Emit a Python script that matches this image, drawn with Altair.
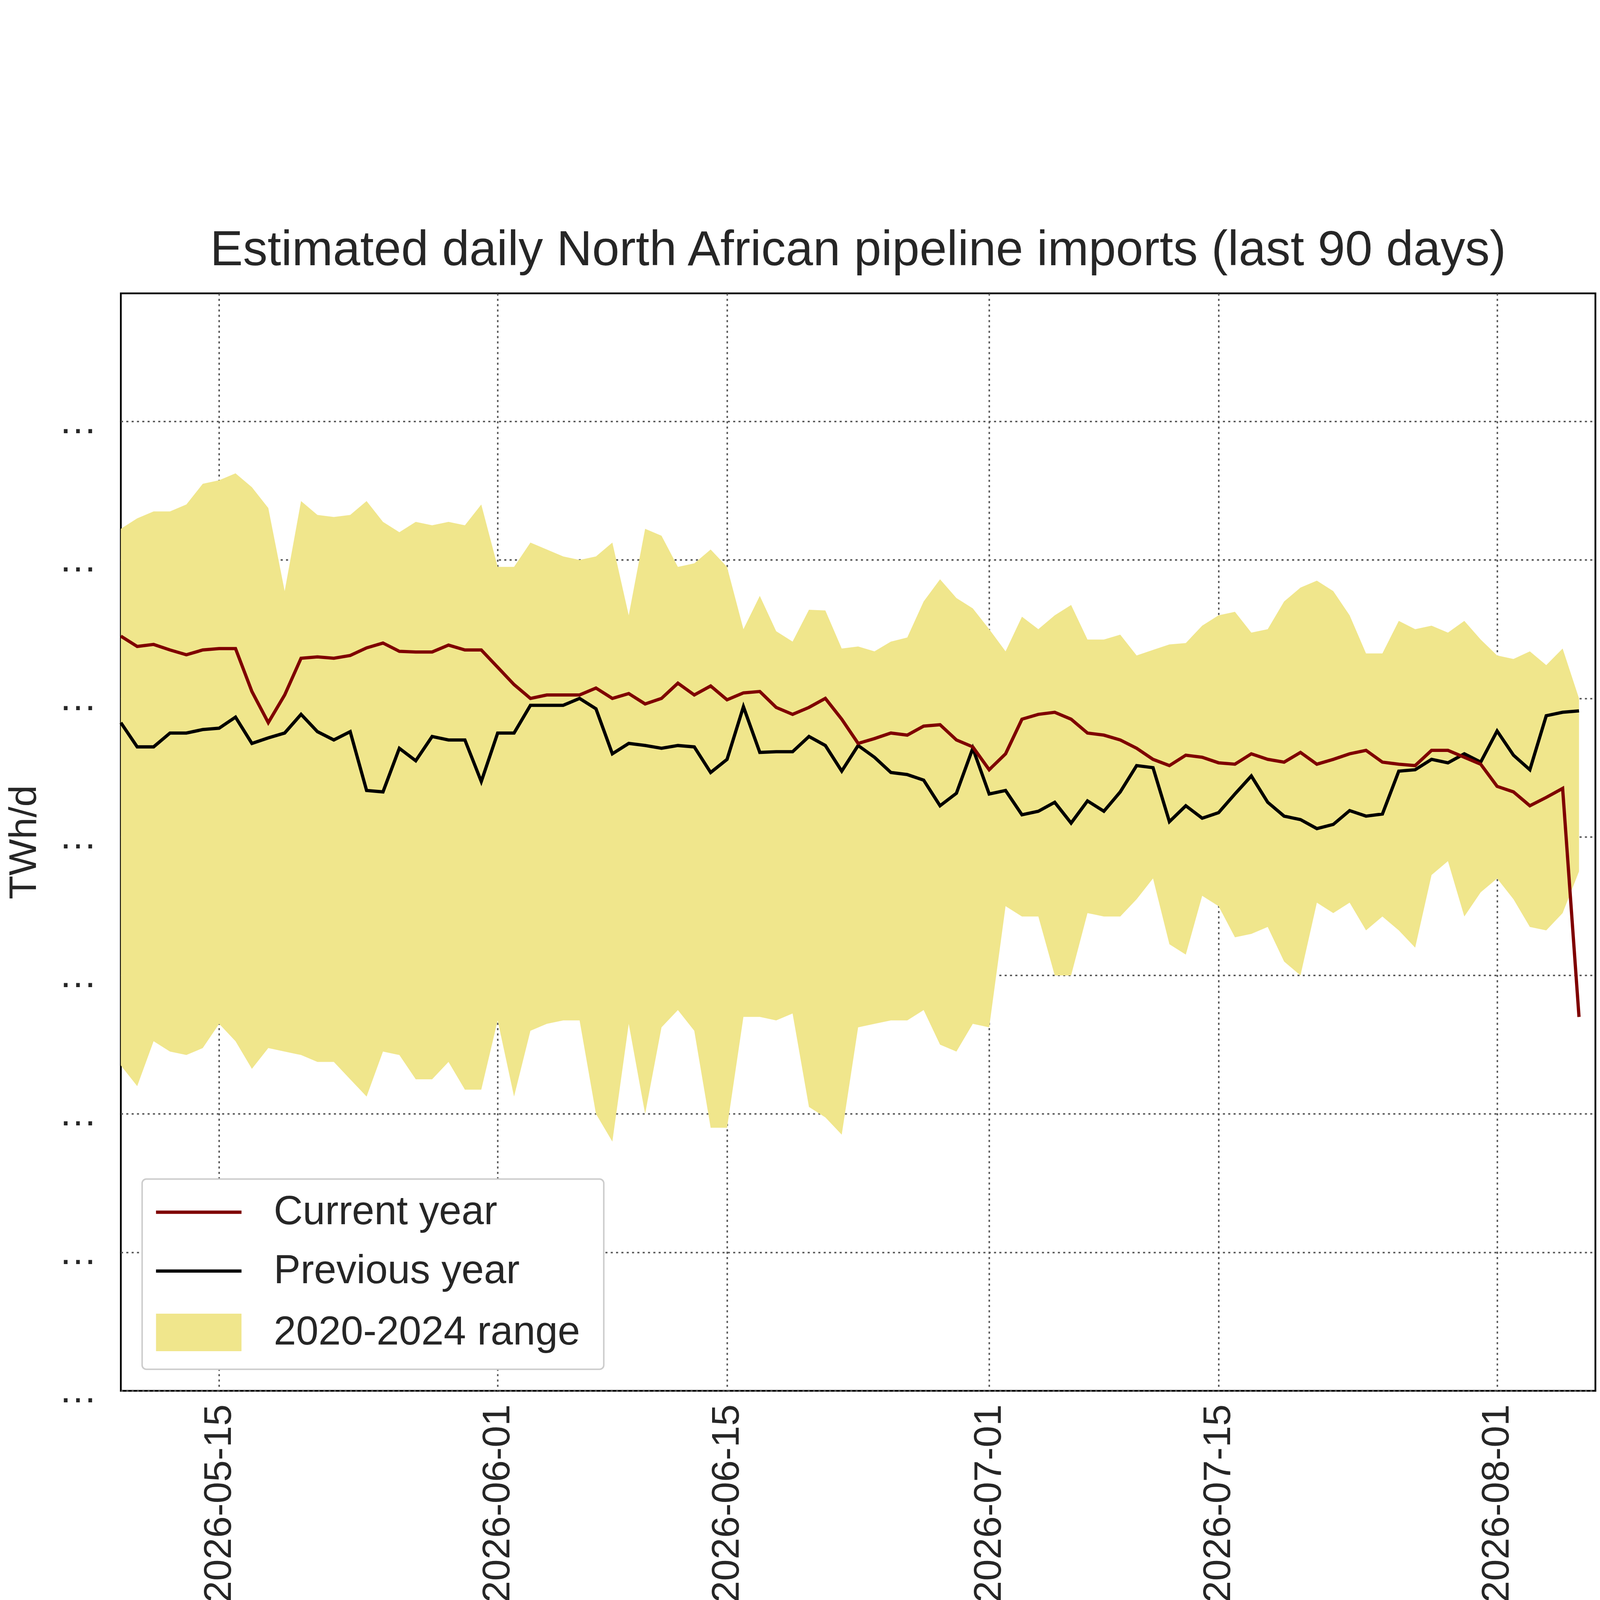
import pandas as pd
import altair as alt

dates = pd.date_range("2026-05-09", "2026-08-06", freq="D").strftime("%Y-%m-%d").tolist()

current_year = [
    1.09, 1.075, 1.078, 1.07, 1.063, 1.07, 1.072, 1.072, 1.01, 0.965, 1.005, 1.058, 1.06, 1.058, 1.062, 1.073, 1.08, 1.068, 1.067, 1.067, 1.077, 1.07, 1.07,
    1.045, 1.02, 1.0, 1.005, 1.005, 1.005, 1.015, 1.0, 1.007, 0.992, 1.0, 1.022, 1.005, 1.018, 0.998, 1.008, 1.01, 0.987, 0.977, 0.987,
    1.0, 0.97, 0.935, 0.942, 0.95, 0.947, 0.96, 0.962, 0.94, 0.93,
    0.897, 0.92, 0.97, 0.977, 0.98, 0.97, 0.95, 0.947, 0.94, 0.928, 0.912, 0.903, 0.918, 0.915, 0.907, 0.905, 0.92, 0.912, 0.908, 0.922,
    0.905, 0.912, 0.92, 0.925, 0.908, 0.905, 0.903, 0.925, 0.925, 0.915, 0.905,
    0.873, 0.865, 0.845, 0.857, 0.87, 0.54,
]
previous_year = [
    0.965, 0.93, 0.93, 0.95, 0.95, 0.955, 0.957, 0.973, 0.935, 0.943, 0.95, 0.977, 0.952, 0.94, 0.952, 0.867, 0.865, 0.928, 0.91, 0.945, 0.94, 0.94, 0.88,
    0.95, 0.95, 0.99, 0.99, 0.99, 1.0, 0.985, 0.92, 0.935, 0.932, 0.928, 0.932, 0.93, 0.893, 0.912, 0.988, 0.922, 0.923, 0.923, 0.945,
    0.932, 0.895, 0.932, 0.915, 0.893, 0.89, 0.882, 0.845, 0.863, 0.928,
    0.862, 0.867, 0.832, 0.837, 0.85, 0.82, 0.852, 0.837, 0.865, 0.903, 0.9, 0.822, 0.845, 0.827, 0.835, 0.862, 0.888, 0.85, 0.83, 0.825,
    0.812, 0.818, 0.838, 0.83, 0.833, 0.895, 0.897, 0.912, 0.907, 0.92, 0.908,
    0.953, 0.918, 0.897, 0.975, 0.98, 0.982,
]
range_max = [
    1.245, 1.26, 1.27, 1.27, 1.28, 1.31, 1.315, 1.325, 1.305, 1.275, 1.155, 1.285, 1.265, 1.262, 1.265, 1.285, 1.255, 1.24, 1.255, 1.25, 1.255, 1.25, 1.28,
    1.19, 1.19, 1.225, 1.215, 1.205, 1.2, 1.205, 1.225, 1.12, 1.245, 1.235, 1.19, 1.195, 1.215, 1.19, 1.1, 1.148, 1.097, 1.082, 1.128,
    1.127, 1.072, 1.075, 1.068, 1.082, 1.088, 1.14, 1.172, 1.145, 1.13,
    1.1, 1.068, 1.118, 1.1, 1.12, 1.135, 1.085, 1.085, 1.092, 1.062, 1.07, 1.078, 1.08, 1.105, 1.12, 1.125, 1.095, 1.1, 1.14, 1.16,
    1.17, 1.155, 1.12, 1.065, 1.065, 1.112, 1.1, 1.105, 1.095, 1.112, 1.085,
    1.062, 1.057, 1.068, 1.048, 1.072, 1.0,
]
range_min = [
    0.47, 0.44, 0.505, 0.49, 0.485, 0.495, 0.53, 0.505, 0.465, 0.495, 0.49, 0.485, 0.475, 0.475, 0.45, 0.425, 0.49, 0.485, 0.45, 0.45, 0.475, 0.435, 0.435,
    0.535, 0.425, 0.52, 0.53, 0.535, 0.535, 0.4, 0.36, 0.53, 0.4, 0.525, 0.55, 0.52, 0.38, 0.38, 0.54, 0.54, 0.535, 0.545, 0.41,
    0.395, 0.37, 0.525, 0.53, 0.535, 0.535, 0.55, 0.5, 0.49, 0.53,
    0.525, 0.7, 0.685, 0.685, 0.6, 0.6, 0.69, 0.685, 0.685, 0.71, 0.74, 0.645, 0.63, 0.715, 0.7, 0.655, 0.66, 0.67, 0.62, 0.6,
    0.705, 0.69, 0.705, 0.665, 0.685, 0.665, 0.64, 0.745, 0.765, 0.685, 0.72,
    0.74, 0.71, 0.67, 0.665, 0.69, 0.75,
]
legend_labels = ["Current year", "Previous year", "2020-2024 range"]

df = pd.DataFrame({"date": dates, "current": current_year, "previous": previous_year,
                   "lo": range_min, "hi": range_max})

font = "Liberation Sans"
W, H = 4986, 3711
LW = 11
tick_dates = [(2026, 5, 15), (2026, 6, 1), (2026, 6, 15), (2026, 7, 1), (2026, 7, 15), (2026, 8, 1)]

x = alt.X("date:T", title=None,
          scale=alt.Scale(type="utc", domain=[alt.DateTime(year=2026, month=5, date=9, utc=True),
                                              alt.DateTime(year=2026, month=8, date=7, utc=True)]),
          axis=alt.Axis(values=[alt.DateTime(year=y, month=m, date=d, utc=True) for y, m, d in tick_dates],
                        labelExpr="utcFormat(datum.value, '%Y-%m-%d')", labelAngle=270,
                        labelFontSize=131, labelPadding=45, labelLimit=0, tickSize=0,
                        grid=True, gridDash=[7, 11], gridColor="#555555", gridWidth=5,
                        domain=False, labelColor="#262626"))
y_axis = alt.Axis(values=[0, 0.2, 0.4, 0.6, 0.8, 1.0, 1.2, 1.4], format=".1f", labelFontSize=131,
                  labelPadding=80, tickSize=0, grid=True, gridDash=[7, 11], gridColor="#555555",
                  gridWidth=5, domain=False, title="TWh/d", titleFontSize=131, titleFontWeight="normal",
                  titlePadding=60, labelColor="#262626", titleColor="#262626")
yscale = alt.Scale(domain=[0, 1.585], nice=False)

base = alt.Chart(df)
band = base.mark_area(color="#f0e68c", opacity=1).encode(
    x=x, y=alt.Y("lo:Q", scale=yscale, axis=y_axis), y2="hi:Q")
prev = base.mark_line(color="black", strokeWidth=LW).encode(x=x, y=alt.Y("previous:Q", scale=yscale))
curr = base.mark_line(color="#7f0000", strokeWidth=LW).encode(x=x, y=alt.Y("current:Q", scale=yscale))

# legend box drawn by hand
one = df.head(1)
box = alt.Chart(one).mark_rect(fill="white", stroke="#cccccc", strokeWidth=5, cornerRadius=14).encode(
    x=alt.value(72), x2=alt.value(1633), y=alt.value(2995), y2=alt.value(3638))
leg_cur = alt.Chart(one).mark_rule(color="#7f0000", strokeWidth=LW).encode(
    x=alt.value(119), x2=alt.value(408), y=alt.value(3107))
leg_prev = alt.Chart(one).mark_rule(color="black", strokeWidth=LW).encode(
    x=alt.value(119), x2=alt.value(408), y=alt.value(3306))
leg_band = alt.Chart(one).mark_rect(color="#f0e68c").encode(
    x=alt.value(119), x2=alt.value(408), y=alt.value(3450), y2=alt.value(3577))
labels = pd.DataFrame({"t": legend_labels, "yy": [3107, 3306, 3513]})
leg_text = alt.Chart(labels).mark_text(align="left", baseline="middle", fontSize=136, font=font,
                                       color="#262626").encode(
    x=alt.value(517), y=alt.Y("yy:Q", scale=None, axis=None), text="t:N")

chart = alt.layer(band, prev, curr, box, leg_cur, leg_prev, leg_band, leg_text).properties(
    width=W, height=H,
    title=alt.Title("Estimated daily North African pipeline imports (last 90 days)", fontSize=166,
                    fontWeight="normal", font=font, color="#262626", offset=60),
).configure(font=font).configure_axis(labelFont=font, titleFont=font).configure_view(
    stroke="black", strokeWidth=6)

chart.save("out.html", embed_options={"renderer": "svg", "actions": False})
